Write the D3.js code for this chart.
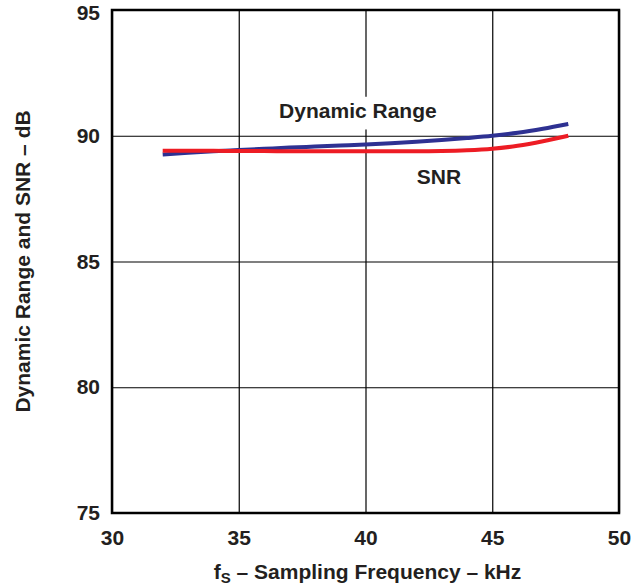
<!DOCTYPE html>
<html>
<head>
<meta charset="utf-8">
<script src="https://cdn.jsdelivr.net/npm/d3@7"></script>
<style>
  body { margin: 0; background: #fff; }
  svg { display: block; font-family: "Liberation Sans", Arial, sans-serif; font-weight: bold; }
</style>
</head>
<body>
<svg></svg>
<script>
// sampling frequency (kHz) where the curves were read
var freqs = [32, 33, 34, 35, 36, 37, 38, 39, 40, 41, 42, 43, 44, 45, 46, 47, 48];
var dynamicRange = [89.25, 89.32, 89.38, 89.43, 89.48, 89.53, 89.57, 89.61, 89.65, 89.7, 89.76, 89.83, 89.91, 90.0, 90.12, 90.28, 90.47];
var snr = [89.4, 89.4, 89.4, 89.39, 89.39, 89.38, 89.38, 89.38, 89.38, 89.38, 89.38, 89.39, 89.42, 89.48, 89.6, 89.78, 90.0];
var xTicks = [30, 35, 40, 45, 50];
var yTicks = [75, 80, 85, 90, 95];

document.addEventListener("DOMContentLoaded", function() {
    var width = 637, height = 586;
    var margin = {top: 10, right: 18, bottom: 73, left: 112};
    var ink = "#231f20";
    var fontSize = 21;

    var svg = d3.select("svg")
                .attr("width", width)
                .attr("height", height);

    var x = d3.scaleLinear().domain([30, 50]).range([margin.left, width - margin.right]);
    var y = d3.scaleLinear().domain([75, 95]).range([height - margin.bottom, margin.top]);

    // grid lines
    svg.append("g")
        .attr("transform", `translate(0,${height - margin.bottom})`)
        .call(d3.axisBottom(x).tickValues(xTicks).tickSize(-(y.range()[0] - y.range()[1])).tickFormat(""))
        .call(g => g.select(".domain").remove())
        .call(g => g.selectAll("line").attr("stroke", "#000").attr("stroke-width", 1.2));
    svg.append("g")
        .attr("transform", `translate(${margin.left},0)`)
        .call(d3.axisLeft(y).tickValues(yTicks).tickSize(-(x.range()[1] - x.range()[0])).tickFormat(""))
        .call(g => g.select(".domain").remove())
        .call(g => g.selectAll("line").attr("stroke", "#000").attr("stroke-width", 1.2));

    // white box behind the "Dynamic Range" label hides the grid there
    svg.append("rect")
        .attr("x", x(36.4)).attr("y", y(91.55))
        .attr("width", x(42.9) - x(36.4)).attr("height", y(90.25) - y(91.55))
        .attr("fill", "#fff");

    var line = d3.line()
                 .x((d, i) => x(freqs[i]))
                 .y(d => y(d))
                 .curve(d3.curveMonotoneX);

    svg.append("path")
        .datum(dynamicRange)
        .attr("d", line)
        .attr("fill", "none")
        .attr("stroke", "#2e3192")
        .attr("stroke-width", 4);

    svg.append("path")
        .datum(snr)
        .attr("d", line)
        .attr("fill", "none")
        .attr("stroke", "#ed1c24")
        .attr("stroke-width", 4);

    // curve labels
    svg.append("text")
        .attr("x", x(39.7)).attr("y", y(90.72))
        .attr("text-anchor", "middle")
        .attr("font-size", fontSize)
        .attr("fill", ink)
        .text("Dynamic Range");
    svg.append("text")
        .attr("x", x(42.9)).attr("y", y(88.1))
        .attr("text-anchor", "middle")
        .attr("font-size", fontSize)
        .attr("fill", ink)
        .text("SNR");

    // plot frame
    svg.append("rect")
        .attr("x", x(30)).attr("y", y(95))
        .attr("width", x(50) - x(30)).attr("height", y(75) - y(95))
        .attr("fill", "none")
        .attr("stroke", "#000")
        .attr("stroke-width", 2.5);

    // tick labels
    svg.append("g")
        .attr("transform", `translate(0,${height - margin.bottom})`)
        .call(d3.axisBottom(x).tickValues(xTicks).tickSize(0).tickPadding(17))
        .call(g => g.select(".domain").remove())
        .call(g => g.selectAll("text").attr("font-size", fontSize).attr("font-family", null).attr("fill", ink));
    svg.append("g")
        .attr("transform", `translate(${margin.left},0)`)
        .call(d3.axisLeft(y).tickValues(yTicks).tickSize(0).tickPadding(12))
        .call(g => g.select(".domain").remove())
        .call(g => g.selectAll("text").attr("font-size", fontSize).attr("font-family", null).attr("fill", ink))
        // top label sits at the very edge; nudge it down so it stays fully inside
        .call(g => g.selectAll(".tick").filter(d => d === 95).select("text").attr("dy", "0.45em"));

    // axis titles
    var xt = svg.append("text")
        .attr("x", (x(30) + x(50)) / 2 + 2).attr("y", 579)
        .attr("text-anchor", "middle")
        .attr("font-size", fontSize)
        .attr("fill", ink);
    xt.append("tspan").text("f");
    xt.append("tspan").attr("font-size", 15).attr("dy", 4).text("S");
    xt.append("tspan").attr("dy", -4).text(" \u2013 Sampling Frequency \u2013 kHz");

    svg.append("text")
        .attr("transform", `translate(30,${(y(75) + y(95)) / 2}) rotate(-90)`)
        .attr("text-anchor", "middle")
        .attr("font-size", fontSize)
        .attr("fill", ink)
        .text("Dynamic Range and SNR \u2013 dB");
});
</script>
</body>
</html>
